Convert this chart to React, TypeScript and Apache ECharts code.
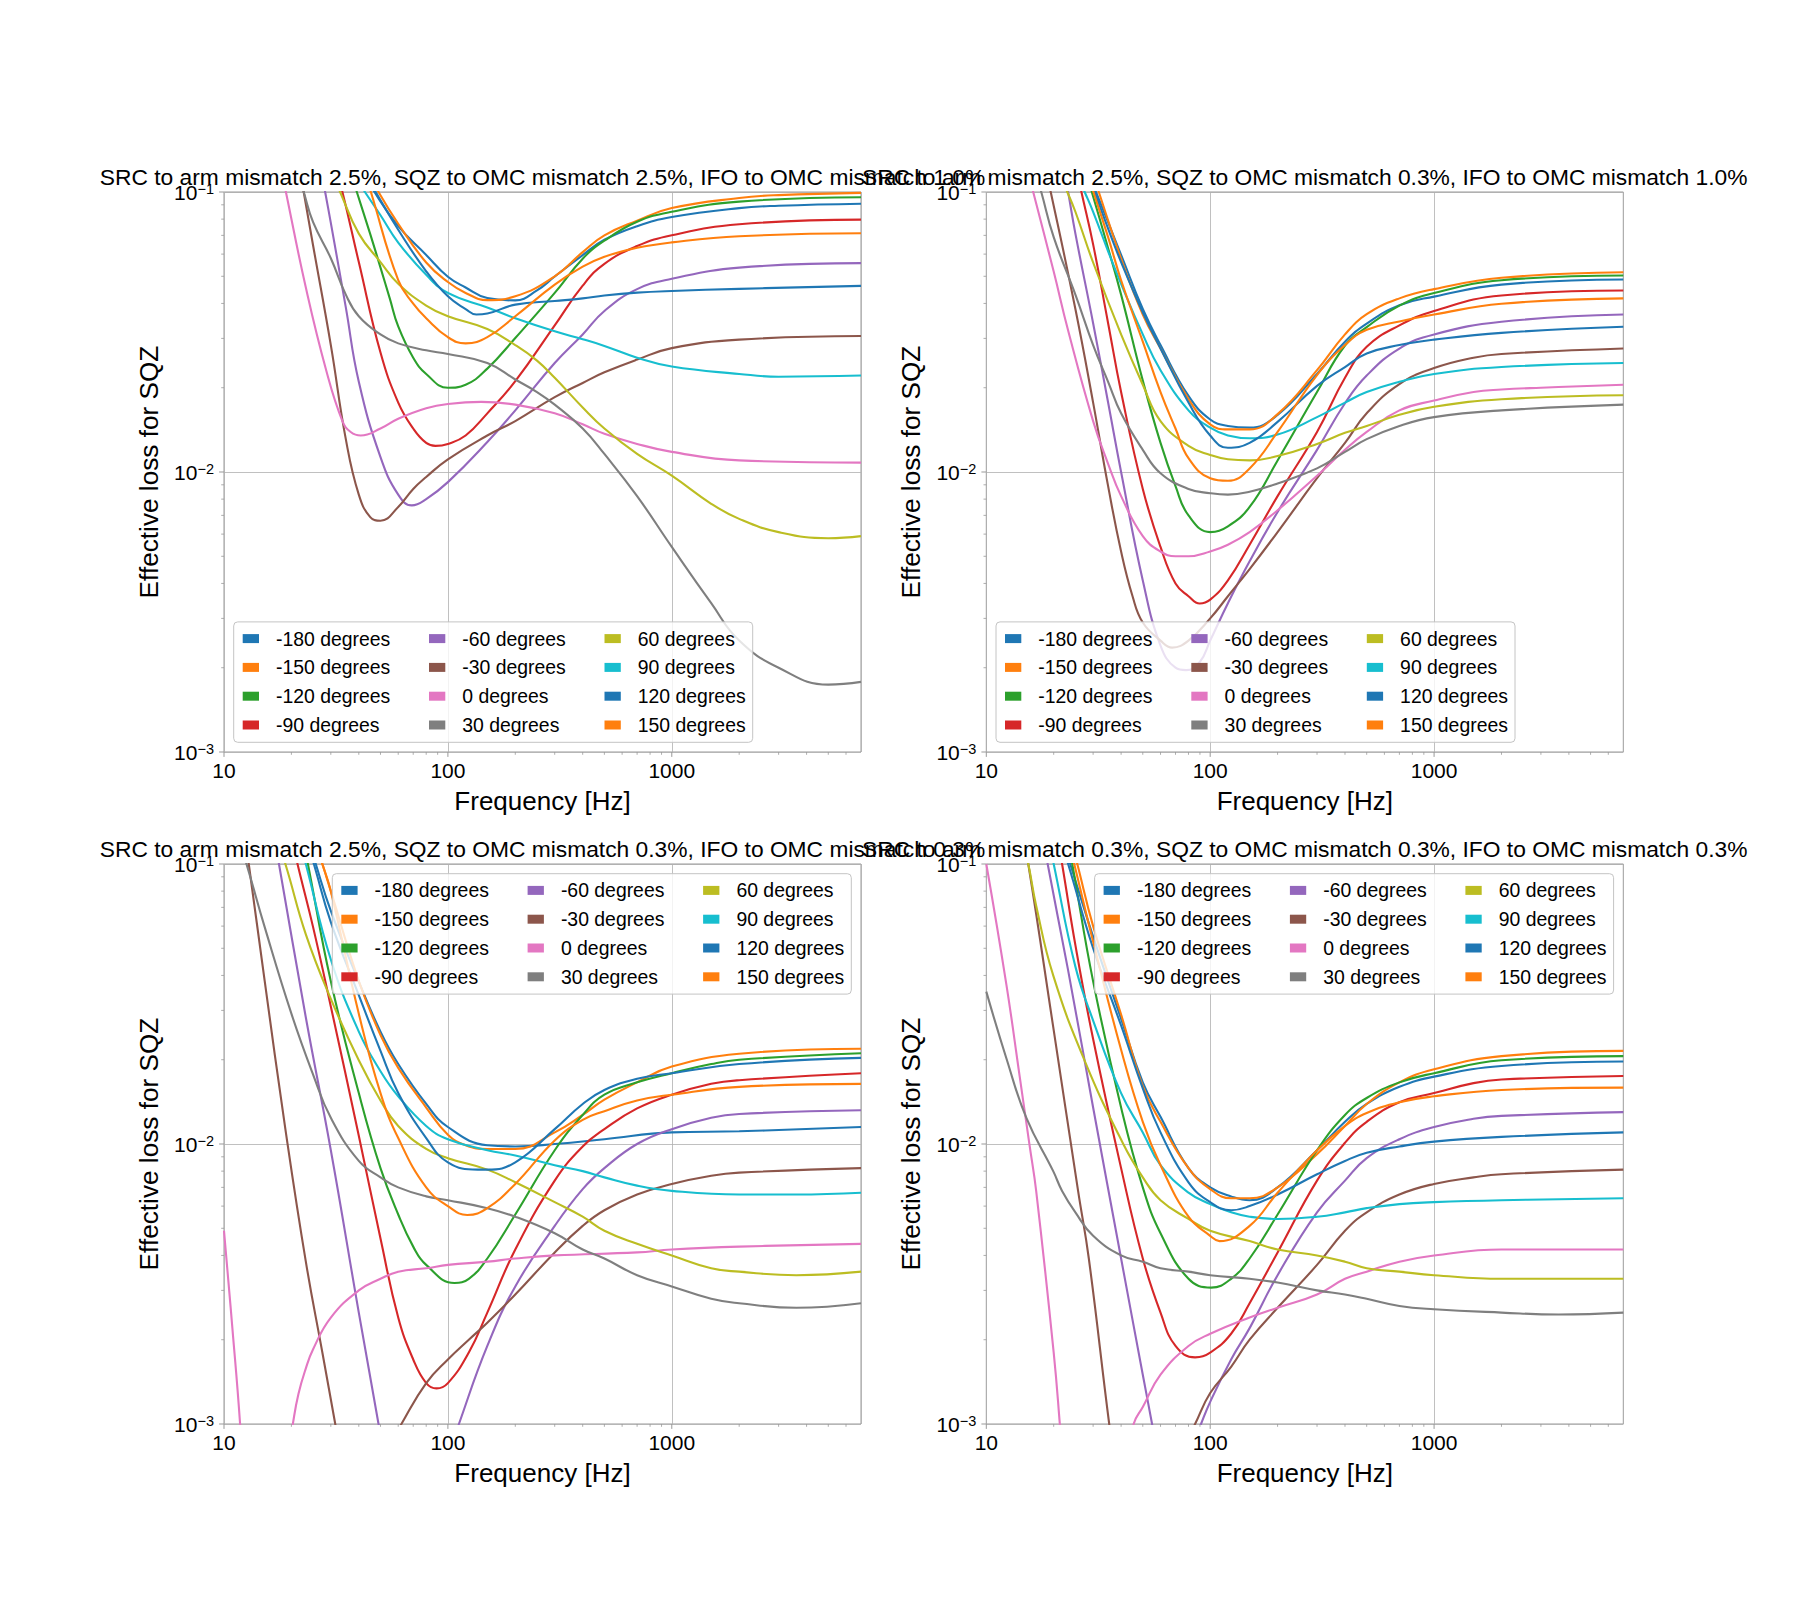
import React, { useEffect, useRef } from "react";
import * as echarts from "echarts";

type Pt = [number, number];

const NAMES = [
  "-180 degrees", "-150 degrees", "-120 degrees", "-90 degrees",
  "-60 degrees", "-30 degrees", "0 degrees", "30 degrees",
  "60 degrees", "90 degrees", "120 degrees", "150 degrees",
];
const COLORS = [
  "#1f77b4", "#ff7f0e", "#2ca02c", "#d62728", "#9467bd", "#8c564b",
  "#e377c2", "#7f7f7f", "#bcbd22", "#17becf", "#1f77b4", "#ff7f0e",
];
const TITLES = [
  "SRC to arm mismatch 2.5%, SQZ to OMC mismatch 2.5%, IFO to OMC mismatch 1.0%",
  "SRC to arm mismatch 2.5%, SQZ to OMC mismatch 0.3%, IFO to OMC mismatch 1.0%",
  "SRC to arm mismatch 2.5%, SQZ to OMC mismatch 0.3%, IFO to OMC mismatch 0.3%",
  "SRC to arm mismatch 0.3%, SQZ to OMC mismatch 0.3%, IFO to OMC mismatch 0.3%",
];
const X_LABEL = "Frequency [Hz]";
const Y_LABEL = "Effective loss for SQZ";
const X_MAJOR = [10, 100, 1000];
const X_MINOR = [20, 30, 40, 50, 60, 70, 80, 90, 200, 300, 400, 500, 600, 700, 800, 900, 2000, 3000, 4000, 5000, 6000];
const Y_MAJOR = [0.001, 0.01, 0.1];
const Y_MINOR = [0.002, 0.003, 0.004, 0.005, 0.006, 0.007, 0.008, 0.009, 0.02, 0.03, 0.04, 0.05, 0.06, 0.07, 0.08, 0.09];

// ---------- top-left panel ----------
const tl_m180: Pt[] = [[43,0.115],[47,0.1],[60,0.0755],[80,0.0596],[100,0.0498],[120,0.0456],[150,0.0418],[200,0.041],[250,0.0445],[300,0.0499],[400,0.0595],[500,0.0675],[700,0.0755],[1000,0.0814],[2000,0.0876],[3000,0.0893],[7000,0.0908]];
const tl_m150: Pt[] = [[45,0.115],[49,0.1],[60,0.077],[80,0.056],[100,0.0477],[120,0.0436],[150,0.0411],[200,0.0424],[300,0.05],[400,0.061],[500,0.07],[700,0.079],[1000,0.0876],[2000,0.0952],[3000,0.0975],[7000,0.0993]];
const tl_m120: Pt[] = [[36,0.124],[39.2,0.1],[45,0.0707],[50,0.0537],[55,0.0417],[60,0.0331],[70,0.0256],[80,0.0224],[100,0.02],[120,0.0205],[150,0.0234],[200,0.0301],[300,0.0436],[400,0.0578],[500,0.067],[700,0.0783],[1000,0.085],[2000,0.0924],[7000,0.0958]];
const tl_m90: Pt[] = [[31,0.128],[33.8,0.1],[40,0.0562],[50,0.0267],[60,0.0177],[70,0.0143],[80,0.0127],[88,0.0124],[100,0.0126],[120,0.0135],[150,0.0162],[200,0.0211],[300,0.0334],[400,0.0463],[500,0.0554],[700,0.0641],[1000,0.0701],[2000,0.0767],[7000,0.0797]];
const tl_m60: Pt[] = [[26,0.145],[28.3,0.1],[30,0.0776],[35,0.0387],[40,0.021],[50,0.0113],[60,0.0083],[69,0.0076],[80,0.008],[100,0.0092],[150,0.0128],[200,0.0166],[300,0.0245],[400,0.031],[500,0.0376],[700,0.045],[1000,0.049],[2000,0.0537],[7000,0.0557]];
const tl_m30: Pt[] = [[21,0.143],[22.7,0.1],[25,0.0644],[30,0.0284],[35,0.0131],[40,0.0083],[45,0.0069],[50,0.0067],[60,0.0075],[70,0.0087],[80,0.0096],[100,0.0111],[150,0.0135],[200,0.0152],[300,0.0185],[400,0.0208],[500,0.0227],[700,0.0252],[1000,0.0277],[2000,0.0297],[7000,0.0306]];
const tl_0: Pt[] = [[17.5,0.135],[18.9,0.1],[23.2,0.0456],[28.6,0.0231],[33.8,0.0152],[36.8,0.0139],[40.8,0.0135],[50,0.0143],[60,0.0155],[80,0.0169],[100,0.0175],[141,0.0178],[200,0.0174],[300,0.0162],[400,0.0148],[500,0.0137],[700,0.0126],[1000,0.0118],[2000,0.011],[7000,0.0108]];
const tl_30: Pt[] = [[21,0.122],[22.7,0.1],[25,0.078],[30,0.058],[35,0.043],[40,0.036],[50,0.031],[60,0.0288],[80,0.0272],[100,0.0264],[150,0.0245],[200,0.0214],[250,0.0193],[300,0.0174],[400,0.0143],[500,0.0116],[700,0.0082],[1000,0.0054],[1500,0.0034],[2000,0.0025],[3000,0.002],[5000,0.00174],[7000,0.00178]];
const tl_60: Pt[] = [[30,0.119],[33,0.1],[40,0.071],[50,0.0562],[60,0.047],[80,0.0393],[100,0.036],[150,0.0324],[200,0.0284],[250,0.025],[300,0.0217],[400,0.017],[500,0.0143],[700,0.0116],[1000,0.0097],[1500,0.0077],[2000,0.0068],[3000,0.0061],[5000,0.0058],[7000,0.0059]];
const tl_90: Pt[] = [[40,0.108],[42.6,0.1],[50,0.0826],[60,0.066],[80,0.0506],[100,0.0436],[150,0.0387],[200,0.0354],[300,0.0318],[400,0.0298],[500,0.0282],[700,0.0256],[1000,0.0238],[2000,0.0224],[3000,0.0219],[7000,0.0221]];
const tl_120: Pt[] = [[44,0.112],[47.6,0.1],[60,0.0733],[80,0.0521],[100,0.0424],[120,0.0382],[134,0.0365],[150,0.0368],[200,0.0396],[300,0.0408],[400,0.0417],[500,0.0427],[700,0.0437],[1000,0.0443],[2000,0.0451],[7000,0.0462]];
const tl_150: Pt[] = [[42,0.122],[45.3,0.1],[60,0.0484],[70,0.0399],[80,0.0354],[100,0.0303],[120,0.0288],[150,0.0303],[200,0.036],[300,0.0467],[400,0.0541],[500,0.0587],[700,0.0632],[1000,0.0661],[2000,0.0695],[7000,0.0712]];

// ---------- top-right panel ----------
const tr_m180: Pt[] = [[29,0.113],[30.9,0.1],[35,0.078],[40,0.0596],[50,0.0382],[60,0.0284],[80,0.0187],[100,0.0154],[120,0.0146],[150,0.0144],[200,0.016],[300,0.0224],[400,0.0292],[500,0.0339],[700,0.0394],[1000,0.0423],[2000,0.0467],[7000,0.0487]];
const tr_m150: Pt[] = [[29.5,0.12],[31.8,0.1],[40,0.0578],[50,0.0365],[60,0.0276],[80,0.0182],[100,0.0148],[120,0.0142],[150,0.0142],[200,0.0161],[300,0.0231],[400,0.031],[500,0.0366],[700,0.0417],[1000,0.045],[2000,0.0494],[7000,0.0517]];
const tr_m120: Pt[] = [[27.5,0.122],[29.6,0.1],[35,0.063],[40,0.043],[50,0.0212],[60,0.0127],[70,0.0089],[80,0.007],[100,0.0061],[120,0.0064],[150,0.0075],[200,0.011],[300,0.0193],[400,0.0283],[500,0.0329],[700,0.0393],[1000,0.0436],[2000,0.0484],[7000,0.0503]];
const tr_m90: Pt[] = [[24.5,0.135],[26.6,0.1],[30,0.065],[35,0.034],[40,0.0193],[50,0.0087],[60,0.0054],[70,0.004],[80,0.0036],[89.8,0.00339],[100,0.0035],[120,0.0041],[150,0.0055],[200,0.0082],[300,0.0139],[400,0.0217],[500,0.028],[700,0.0334],[1000,0.0376],[2000,0.0427],[7000,0.0445]];
const tr_m60: Pt[] = [[21.5,0.14],[23.2,0.1],[25,0.071],[30,0.034],[35,0.0177],[40,0.01],[50,0.0041],[60,0.0024],[70,0.002],[78,0.00196],[90,0.0021],[100,0.0025],[120,0.0034],[150,0.0048],[200,0.0072],[300,0.012],[400,0.0176],[500,0.0221],[700,0.0276],[1000,0.031],[2000,0.0344],[7000,0.0365]];
const tr_m30: Pt[] = [[18,0.13],[19.4,0.1],[25,0.0382],[30,0.0177],[35,0.0089],[40,0.0052],[45,0.0036],[50,0.0029],[60,0.0025],[67.6,0.00236],[80,0.0025],[100,0.003],[120,0.0036],[150,0.0045],[200,0.0061],[300,0.0095],[400,0.0127],[500,0.0162],[700,0.0206],[1000,0.0235],[1500,0.0256],[2000,0.0264],[7000,0.0276]];
const tr_0: Pt[] = [[15,0.127],[16.2,0.1],[20,0.052],[23.2,0.032],[30,0.0152],[35,0.0107],[40,0.0082],[50,0.0059],[60,0.0052],[70,0.005],[80,0.005],[100,0.0052],[120,0.0055],[150,0.0061],[200,0.0073],[300,0.0097],[400,0.012],[500,0.0139],[700,0.0166],[1000,0.018],[1500,0.0193],[2000,0.0197],[3000,0.02],[7000,0.0205]];
const tr_30: Pt[] = [[16,0.13],[17.6,0.1],[20,0.069],[25,0.043],[30,0.0284],[35,0.021],[40,0.0162],[50,0.012],[60,0.0099],[80,0.0087],[100,0.0084],[120,0.0083],[150,0.0085],[200,0.0091],[300,0.0103],[400,0.0118],[500,0.0131],[700,0.0146],[1000,0.0157],[2000,0.0166],[7000,0.0174]];
const tr_60: Pt[] = [[21,0.117],[23,0.1],[25,0.085],[30,0.056],[40,0.031],[50,0.0205],[60,0.0152],[80,0.0124],[100,0.0115],[120,0.0111],[150,0.011],[200,0.0114],[300,0.0126],[400,0.0138],[500,0.0146],[700,0.016],[1000,0.0171],[2000,0.0182],[7000,0.0188]];
const tr_90: Pt[] = [[25.5,0.115],[27.5,0.1],[30,0.085],[35,0.0614],[40,0.047],[50,0.031],[60,0.0231],[80,0.0166],[100,0.0144],[120,0.0135],[150,0.0132],[200,0.0136],[300,0.0157],[400,0.0177],[500,0.0193],[700,0.021],[1000,0.0224],[2000,0.0237],[7000,0.0245]];
const tr_120: Pt[] = [[28.5,0.116],[30.5,0.1],[35,0.074],[40,0.0562],[50,0.0372],[60,0.0276],[80,0.0177],[100,0.0135],[120,0.0122],[150,0.0127],[200,0.0151],[300,0.0203],[400,0.0237],[500,0.0265],[700,0.0284],[1000,0.0297],[2000,0.0314],[7000,0.033]];
const tr_150: Pt[] = [[28,0.12],[30.1,0.1],[35,0.069],[40,0.0484],[50,0.0292],[60,0.0193],[70,0.0143],[80,0.0112],[100,0.0095],[120,0.0093],[150,0.0103],[200,0.0139],[300,0.0222],[400,0.0284],[500,0.0322],[700,0.0345],[1000,0.0365],[2000,0.0399],[7000,0.0417]];

// ---------- bottom-left panel ----------
const bl_m180: Pt[] = [[24,0.12],[25.7,0.1],[30,0.068],[40,0.038],[50,0.0252],[60,0.0193],[80,0.0139],[100,0.0115],[150,0.0099],[200,0.0098],[300,0.01],[500,0.0104],[1000,0.011],[2000,0.0111],[7000,0.0115]];
const bl_m150: Pt[] = [[25.5,0.12],[27.5,0.1],[30,0.08],[40,0.0382],[50,0.0245],[60,0.0187],[80,0.0135],[100,0.0108],[120,0.0099],[150,0.0096],[200,0.0096],[300,0.011],[400,0.0127],[500,0.0144],[700,0.0166],[1000,0.0189],[2000,0.021],[7000,0.0219]];
const bl_m120: Pt[] = [[22,0.135],[23.7,0.1],[30,0.0381],[40,0.0152],[50,0.0082],[60,0.0056],[70,0.0043],[80,0.0037],[107,0.00319],[124,0.0033],[150,0.0039],[200,0.0056],[300,0.0095],[400,0.0127],[500,0.015],[700,0.0166],[1000,0.0179],[1500,0.0193],[2000,0.02],[7000,0.0211]];
const bl_m90: Pt[] = [[19.8,0.13],[21.3,0.1],[25,0.0595],[30,0.031],[40,0.0107],[50,0.0046],[60,0.0024],[70,0.0017],[80,0.0014],[89,0.00134],[100,0.0014],[124,0.0018],[150,0.0025],[200,0.0042],[300,0.0074],[400,0.0098],[500,0.0113],[700,0.0134],[1000,0.015],[1500,0.0164],[2000,0.0169],[7000,0.0179]];
const bl_m60a: Pt[] = [[16.3,0.14],[17.6,0.1],[23.2,0.0283],[30,0.0095],[40,0.0025],[49,0.001],[52,0.00075]];
const bl_m60b: Pt[] = [[105,0.00085],[112,0.001],[150,0.0019],[200,0.0031],[300,0.0051],[400,0.0069],[500,0.0082],[700,0.01],[1000,0.0113],[1500,0.0124],[2000,0.0128],[7000,0.0132]];
const bl_m30a: Pt[] = [[12,0.15],[12.9,0.1],[15.2,0.0382],[18.8,0.0113],[23.2,0.0038],[27.5,0.0018],[31.4,0.001],[33,0.0008]];
const bl_m30b: Pt[] = [[55,0.00084],[62,0.001],[80,0.0014],[100,0.0017],[124,0.002],[150,0.0023],[200,0.0029],[300,0.0041],[400,0.0051],[500,0.0058],[700,0.0066],[1000,0.0072],[1500,0.0077],[2000,0.0079],[7000,0.0082]];
const bl_0a: Pt[] = [[10,0.0049],[10.9,0.0022],[11.8,0.001],[12.2,0.0006]];
const bl_0b: Pt[] = [[19.5,0.0008],[20.3,0.001],[21.5,0.00128],[23.2,0.00158],[25,0.00185],[30,0.0024],[40,0.003],[50,0.0033],[60,0.0035],[80,0.0036],[100,0.0037],[150,0.0038],[200,0.0039],[300,0.004],[700,0.0041],[1000,0.0042],[2000,0.0043],[7000,0.0044]];
const bl_30: Pt[] = [[11.5,0.125],[12.6,0.1],[15.2,0.0595],[20,0.0292],[25,0.0177],[30,0.0124],[40,0.0087],[50,0.0076],[60,0.007],[80,0.0065],[100,0.0063],[150,0.0059],[200,0.0055],[300,0.0048],[400,0.0042],[500,0.0039],[700,0.0034],[1000,0.0031],[1500,0.0028],[2000,0.0027],[3600,0.0026],[7000,0.0027]];
const bl_60: Pt[] = [[17.3,0.12],[18.8,0.1],[23.2,0.0561],[30,0.033],[40,0.0199],[50,0.0143],[60,0.0116],[80,0.0096],[100,0.0089],[150,0.0081],[200,0.0073],[300,0.0062],[400,0.0055],[500,0.0049],[700,0.0044],[1000,0.004],[1500,0.0036],[2000,0.0035],[3600,0.0034],[7000,0.0035]];
const bl_90: Pt[] = [[21.5,0.125],[23.2,0.1],[30,0.0456],[40,0.0252],[50,0.0182],[60,0.0148],[80,0.0116],[100,0.0104],[150,0.0095],[200,0.0091],[300,0.0084],[400,0.008],[500,0.0076],[700,0.0071],[1000,0.0068],[2000,0.0066],[3600,0.0066],[7000,0.0067]];
const bl_120: Pt[] = [[23.5,0.12],[25.2,0.1],[30,0.062],[40,0.034],[50,0.0215],[60,0.0152],[80,0.0105],[100,0.0086],[136,0.0081],[150,0.0081],[200,0.0086],[300,0.0113],[400,0.0139],[500,0.0156],[700,0.0171],[1000,0.0179],[2000,0.0193],[7000,0.0203]];
const bl_150: Pt[] = [[25.5,0.12],[27.5,0.1],[30,0.08],[40,0.0292],[50,0.0152],[60,0.0105],[80,0.007],[100,0.006],[122,0.00558],[150,0.0059],[200,0.0072],[300,0.0103],[400,0.0122],[500,0.0131],[700,0.0143],[1000,0.015],[2000,0.016],[7000,0.0164]];

// ---------- bottom-right panel ----------
const br_m180: Pt[] = [[22,0.12],[23.7,0.1],[30,0.055],[40,0.028],[50,0.0166],[60,0.0125],[80,0.0082],[100,0.007],[124,0.0065],[150,0.0063],[200,0.007],[300,0.0095],[400,0.012],[500,0.0139],[700,0.016],[1000,0.0174],[2000,0.019],[7000,0.0197]];
const br_m150: Pt[] = [[24,0.12],[25.5,0.1],[30,0.06],[40,0.029],[50,0.0161],[60,0.012],[80,0.0082],[100,0.0069],[124,0.0064],[150,0.0064],[200,0.007],[300,0.0092],[400,0.0116],[500,0.0139],[700,0.0166],[1000,0.0185],[2000,0.0206],[7000,0.0215]];
const br_m120: Pt[] = [[22.5,0.135],[24.2,0.1],[30,0.0381],[40,0.0135],[50,0.007],[60,0.0048],[80,0.0033],[101,0.00307],[124,0.0033],[150,0.0039],[200,0.0056],[300,0.0095],[400,0.0127],[500,0.0146],[700,0.0166],[1000,0.0179],[2000,0.0199],[7000,0.0206]];
const br_m90: Pt[] = [[20.2,0.14],[21.8,0.1],[25,0.0513],[30,0.0237],[40,0.0082],[50,0.0039],[60,0.0025],[70,0.0019],[85.6,0.00173],[100,0.0018],[124,0.0021],[150,0.0027],[200,0.0041],[300,0.0074],[400,0.0101],[500,0.012],[700,0.0141],[1000,0.0152],[1500,0.0165],[2000,0.017],[7000,0.0175]];
const br_m60a: Pt[] = [[17.5,0.14],[18.8,0.1],[23.2,0.0417],[30,0.0135],[40,0.0039],[50,0.0015],[55,0.001],[57,0.00085]];
const br_m60b: Pt[] = [[88,0.00093],[91,0.001],[100,0.0012],[124,0.0017],[150,0.0022],[200,0.0034],[300,0.0057],[400,0.0074],[500,0.0089],[700,0.0104],[1000,0.0115],[1500,0.0123],[2000,0.0126],[7000,0.013]];
const br_m30a: Pt[] = [[14.3,0.135],[15.4,0.1],[19.9,0.0262],[25.7,0.0068],[28.7,0.0039],[35.4,0.001],[37,0.0008]];
const br_m30b: Pt[] = [[80,0.0009],[85.6,0.001],[100,0.00129],[124,0.0016],[150,0.002],[200,0.0026],[300,0.0037],[400,0.0049],[500,0.0057],[700,0.0066],[1000,0.0072],[1500,0.0076],[2000,0.0078],[7000,0.0081]];
const br_0a: Pt[] = [[10,0.1],[12.3,0.037],[14.1,0.0174],[15.6,0.0099],[16.7,0.0068],[20,0.0018],[21.3,0.001],[22,0.0007]];
const br_0b: Pt[] = [[44,0.0008],[45.5,0.001],[50,0.00115],[60,0.0015],[80,0.0019],[100,0.0021],[150,0.0024],[200,0.0026],[300,0.0029],[400,0.0033],[500,0.0035],[700,0.0038],[1000,0.004],[2000,0.0042],[7000,0.0042]];
const br_30: Pt[] = [[10,0.035],[12.3,0.0202],[15.1,0.0124],[19.9,0.008],[21.8,0.0068],[25,0.0057],[30,0.0047],[40,0.004],[50,0.0038],[60,0.0036],[80,0.0035],[100,0.0034],[150,0.0033],[200,0.0032],[300,0.003],[400,0.0029],[500,0.0028],[700,0.00264],[1000,0.00257],[2000,0.0025],[3600,0.00246],[7000,0.0025]];
const br_60: Pt[] = [[14.2,0.13],[15.4,0.1],[16.7,0.071],[19.9,0.04],[27.6,0.0197],[40.9,0.01],[50,0.0076],[60,0.0063],[80,0.0054],[100,0.0049],[150,0.0045],[200,0.0042],[300,0.004],[400,0.0038],[500,0.0036],[700,0.0035],[1000,0.0034],[2000,0.0033],[3600,0.0033],[7000,0.0033]];
const br_90: Pt[] = [[18.5,0.135],[20,0.1],[25,0.043],[30,0.0276],[40,0.0152],[50,0.011],[60,0.0084],[80,0.0067],[100,0.0061],[124,0.0057],[150,0.0055],[200,0.0054],[300,0.0055],[400,0.0057],[500,0.0059],[700,0.0061],[1000,0.0062],[2000,0.0063],[7000,0.0064]];
const br_120: Pt[] = [[21.5,0.12],[23.2,0.1],[30,0.05],[40,0.0265],[50,0.0158],[60,0.011],[80,0.0073],[100,0.0062],[124,0.0058],[150,0.006],[200,0.0066],[300,0.0078],[400,0.0087],[500,0.0093],[700,0.0098],[1000,0.0102],[2000,0.0106],[7000,0.011]];
const br_150: Pt[] = [[23,0.125],[24.7,0.1],[30,0.0529],[40,0.0217],[50,0.012],[60,0.0084],[80,0.0055],[100,0.0047],[110,0.0045],[150,0.0051],[200,0.0067],[300,0.0095],[400,0.0116],[500,0.0129],[700,0.0141],[1000,0.0148],[2000,0.0156],[7000,0.0159]];

// curves per panel, in NAMES order; each curve may have several segments
const PANELS: Pt[][][][] = [
  [[tl_m180],[tl_m150],[tl_m120],[tl_m90],[tl_m60],[tl_m30],[tl_0],[tl_30],[tl_60],[tl_90],[tl_120],[tl_150]],
  [[tr_m180],[tr_m150],[tr_m120],[tr_m90],[tr_m60],[tr_m30],[tr_0],[tr_30],[tr_60],[tr_90],[tr_120],[tr_150]],
  [[bl_m180],[bl_m150],[bl_m120],[bl_m90],[bl_m60a,bl_m60b],[bl_m30a,bl_m30b],[bl_0a,bl_0b],[bl_30],[bl_60],[bl_90],[bl_120],[bl_150]],
  [[br_m180],[br_m150],[br_m120],[br_m90],[br_m60a,br_m60b],[br_m30a,br_m30b],[br_0a,br_0b],[br_30],[br_60],[br_90],[br_120],[br_150]],
];

// ---------- layout / style ----------
const FONT = "'Liberation Sans', Arial, Helvetica, sans-serif";
const SPINE = "#999999";
const GRID_LEFT = [224, 986.3, 224, 986.3];
const GRID_TOP = [192, 192, 864, 864];
const GRID_W = 637;
const GRID_H = 560;
const LEG_W = 519;
const LEG_H = 120.4;
const LEG_POS: [number, number][] = [[233.7, 621.9], [996, 621.9], [332.3, 873.7], [1094.6, 873.7]];
const LEG_COL = [9, 195.3, 370.8];

function buildOption() {
  const grid: any[] = [];
  const xAxis: any[] = [];
  const yAxis: any[] = [];
  const series: any[] = [];
  const legend: any[] = [];
  const graphic: any[] = [];

  const tickData: any[] = [
    ...X_MAJOR.map((v) => [v, 0.001, 1]),
    ...X_MINOR.map((v) => [v, 0.001, 0]),
    ...Y_MAJOR.map((v) => [10, v, 3]),
    ...Y_MINOR.map((v) => [10, v, 2]),
  ];

  PANELS.forEach((curves, p) => {
    const left = GRID_LEFT[p];
    const top = GRID_TOP[p];
    grid.push({ left, top, width: GRID_W, height: GRID_H, show: true, borderColor: SPINE, borderWidth: 1, backgroundColor: "transparent" });
    xAxis.push({
      type: "log", logBase: 10, gridIndex: p, min: 10, max: 7000,
      axisLine: { show: false }, axisTick: { show: false },
      splitLine: { show: true, lineStyle: { color: "#b0b0b0", width: 0.8 } },
      axisLabel: {
        show: true, showMaxLabel: false, margin: 8, fontSize: 21, color: "#000", fontFamily: FONT,
        formatter: (v: number) => String(Math.round(v)),
      },
      name: X_LABEL, nameLocation: "middle", nameGap: 36,
      nameTextStyle: { fontSize: 26, color: "#000", fontFamily: FONT },
    });
    yAxis.push({
      type: "log", logBase: 10, gridIndex: p, min: 0.001, max: 0.1,
      axisLine: { show: false }, axisTick: { show: false },
      splitLine: { show: true, lineStyle: { color: "#b0b0b0", width: 0.8 } },
      axisLabel: {
        show: true, margin: 10, color: "#000", fontFamily: FONT,
        formatter: (v: number) => `{b|10}{s|\u2212${Math.round(-Math.log10(v))}}`,
        rich: {
          b: { fontSize: 21, lineHeight: 21, verticalAlign: "bottom", fontFamily: FONT, color: "#000" },
          s: { fontSize: 14.5, lineHeight: 14.5, padding: [0, 0, 10, 0], verticalAlign: "top", fontFamily: FONT, color: "#000" },
        },
      },
      name: Y_LABEL, nameLocation: "middle", nameGap: 62,
      nameTextStyle: { fontSize: 26.2, color: "#000", fontFamily: FONT },
    });

    curves.forEach((segs, i) => {
      segs.forEach((seg) => {
        series.push({
          type: "line", name: NAMES[i], xAxisIndex: p, yAxisIndex: p, data: seg,
          showSymbol: false, symbol: "none", smooth: 0.45, clip: true,
          lineStyle: { width: 2.1, color: COLORS[i] }, itemStyle: { color: COLORS[i] },
          silent: true, z: 2, emphasis: { disabled: true },
        });
      });
    });

    series.push({
      type: "custom", xAxisIndex: p, yAxisIndex: p, silent: true, clip: false, z: 5,
      data: tickData,
      renderItem: (_params: any, api: any) => {
        const kind = api.value(2);
        const pt = api.coord([api.value(0), api.value(1)]);
        const len = kind % 2 === 1 ? 4.9 : 2.8;
        const w = kind % 2 === 1 ? 1 : 0.8;
        if (kind < 2) {
          return { type: "line", shape: { x1: pt[0], y1: pt[1], x2: pt[0], y2: pt[1] + len }, style: { stroke: SPINE, lineWidth: w } };
        }
        return { type: "line", shape: { x1: pt[0] - len, y1: pt[1], x2: pt[0], y2: pt[1] }, style: { stroke: SPINE, lineWidth: w } };
      },
    });

    const [lx, ly] = LEG_POS[p];
    graphic.push({
      type: "rect", z: 3, silent: true,
      shape: { x: lx, y: ly, width: LEG_W, height: LEG_H, r: 4 },
      style: { fill: "rgba(255,255,255,0.8)", stroke: "#c4c4c4", lineWidth: 1 },
    });
    for (let c = 0; c < 3; c++) {
      legend.push({
        show: true, orient: "vertical", left: lx + LEG_COL[c], top: ly + 6.7, padding: 0,
        itemGap: 8.8, itemWidth: 16.3, itemHeight: 9, icon: "rect", selectedMode: false,
        data: NAMES.slice(c * 4, c * 4 + 4),
        itemStyle: { borderWidth: 0 },
        textStyle: { fontSize: 19.4, lineHeight: 20, color: "#000", fontFamily: FONT, padding: [0, 0, 0, 12] },
        z: 4,
      });
    }
    graphic.push({
      type: "text", z: 10, silent: true,
      x: left + GRID_W / 2, y: top - 15,
      style: { text: TITLES[p], fontSize: 22.8, fontFamily: FONT, fill: "#000", align: "center", verticalAlign: "middle" },
    });
  });

  return {
    animation: false,
    backgroundColor: "#ffffff",
    textStyle: { fontFamily: FONT },
    grid, xAxis, yAxis, series, legend, graphic,
  };
}

export default function App() {
  const ref = useRef<HTMLDivElement>(null);
  useEffect(() => {
    if (!ref.current) return;
    const chart = echarts.init(ref.current, undefined, { renderer: "svg" });
    chart.setOption(buildOption() as any);
    return () => chart.dispose();
  }, []);
  return (
    <div
      ref={ref}
      style={{ position: "absolute", left: 0, top: 0, width: 1800, height: 1600, background: "#fff" }}
    />
  );
}
